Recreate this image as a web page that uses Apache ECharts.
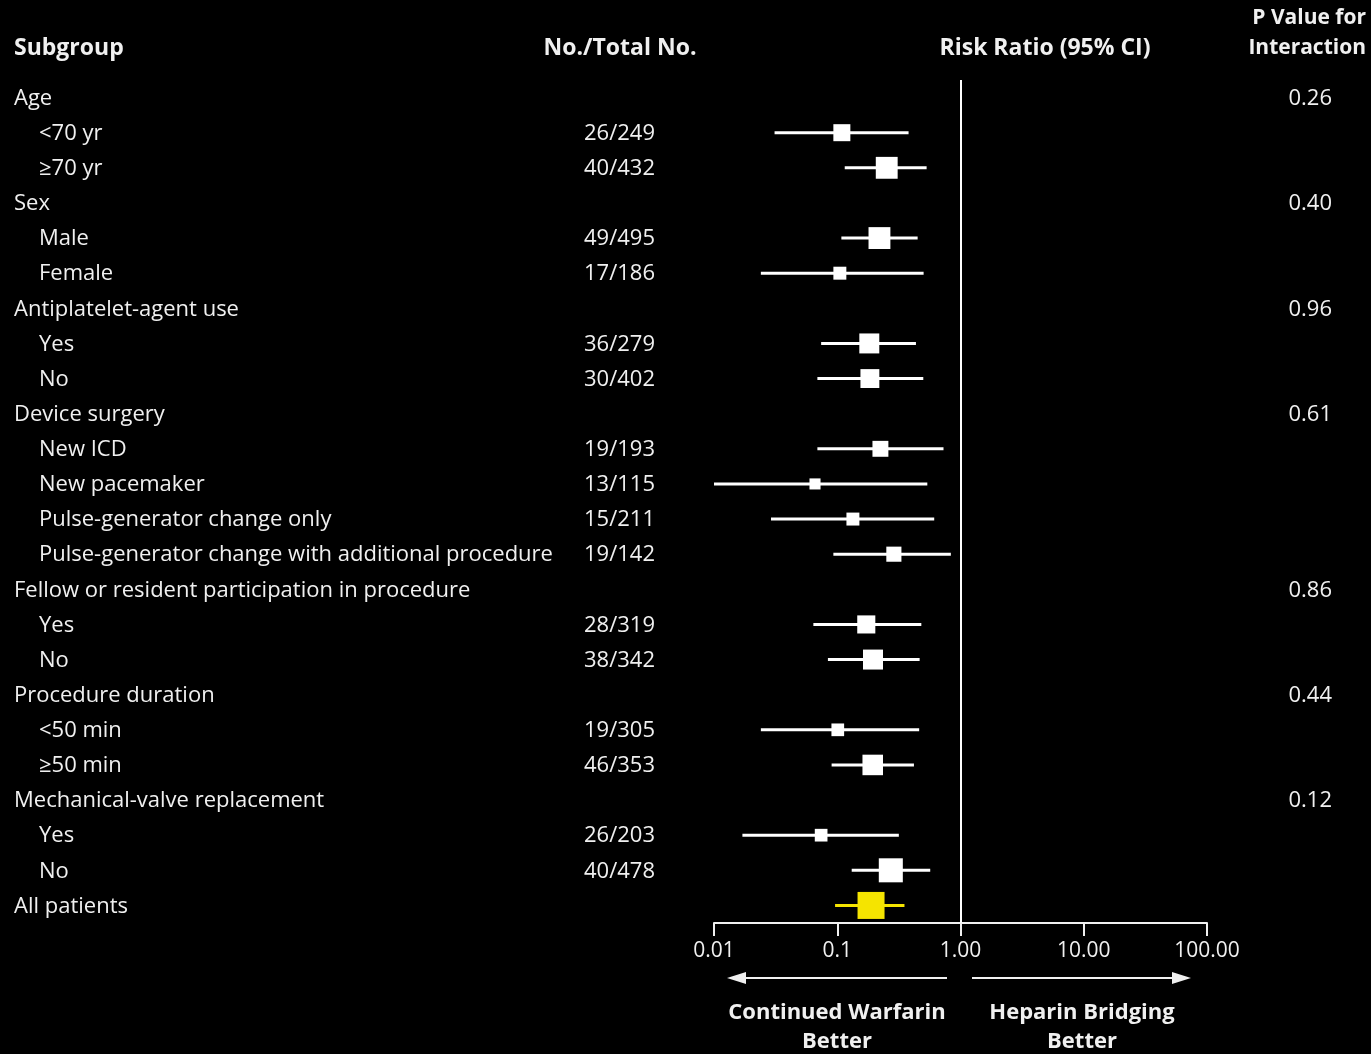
<!DOCTYPE html>
<html>
<head>
<meta charset="utf-8">
<script src="https://cdn.jsdelivr.net/npm/echarts@6/dist/echarts.min.js"></script>
<style>
html,body{margin:0;padding:0;background:#000;}
#chart{width:1371px;height:1054px;}
</style>
</head>
<body>
<div id="chart"></div>
<script>
// ---- data ----
const subgroups = ['Age','<70 yr','\u226570 yr','Sex','Male','Female','Antiplatelet-agent use','Yes','No',
  'Device surgery','New ICD','New pacemaker','Pulse-generator change only','Pulse-generator change with additional procedure',
  'Fellow or resident participation in procedure','Yes','No','Procedure duration','<50 min','\u226550 min',
  'Mechanical-valve replacement','Yes','No','All patients'];
const isChild = [0,1,1,0,1,1,0,1,1,0,1,1,1,1,0,1,1,0,1,1,0,1,1,0];
const counts = ['','26/249','40/432','','49/495','17/186','','36/279','30/402','','19/193','13/115','15/211','19/142',
  '','28/319','38/342','','19/305','46/353','','26/203','40/478',''];
const pValues = ['0.26','','','0.40','','','0.96','','','0.61','','','','','0.86','','','0.44','','','0.12','','',''];
const riskRatio = [null,0.109,0.252,null,0.220,0.105,null,0.182,0.184,null,0.224,0.066,0.134,0.288,null,0.172,0.195,null,0.101,0.194,null,0.074,0.272,0.188];
const ciLow =     [null,0.031,0.115,null,0.108,0.024,null,0.074,0.069,null,0.069,0.010,0.029,0.093,null,0.064,0.084,null,0.024,0.090,null,0.017,0.131,0.096];
const ciHigh =    [null,0.379,0.531,null,0.449,0.502,null,0.435,0.499,null,0.728,0.538,0.612,0.835,null,0.481,0.466,null,0.462,0.419,null,0.316,0.568,0.351];
const weight =    [null,0.63,0.81,null,0.81,0.48,null,0.74,0.70,null,0.59,0.41,0.48,0.56,null,0.67,0.74,null,0.47,0.76,null,0.47,0.89,1.0];
const overallRow = 23;
const tickValues = [0.01,0.1,1,10,100];
const tickLabels = ['0.01','0.1','1.00','10.00','100.00'];

// ---- chart ----
const FONT = '"Open Sans", Lato, sans-serif';
const TXT = '#f0f0f0';
const YELLOW = '#f5e400';
const BOX = 27;

const rows = subgroups.map((_, i) => String(i));
const forestData = [];
riskRatio.forEach((v, i) => { if (v != null) forestData.push([i, v, ciLow[i], ciHigh[i], weight[i]]); });
const textData = subgroups.map((_, i) => [1, i]);

const chart = echarts.init(document.getElementById('chart'));
chart.setOption({
  backgroundColor: '#000',
  animation: false,
  grid: { left: 714, right: 164, top: 80, bottom: 131, containLabel: false },
  xAxis: {
    type: 'log', logBase: 10, min: 0.01, max: 100,
    axisLine: { show: true, lineStyle: { color: TXT, width: 2 } },
    axisTick: { show: true, inside: false, length: 13, lineStyle: { color: TXT, width: 2 } },
    minorTick: { show: false },
    splitLine: { show: false },
    axisLabel: {
      color: TXT, fontFamily: FONT, fontSize: 21, margin: 18,
      formatter: v => { const k = tickValues.findIndex(t => Math.abs(Math.log10(t) - Math.log10(v)) < 1e-6); return k >= 0 ? tickLabels[k] : ''; }
    }
  },
  yAxis: {
    type: 'category', data: rows, inverse: true, show: false, boundaryGap: true
  },
  series: [
    {
      type: 'custom', name: 'text', data: textData, silent: true,
      encode: { x: 0, y: 1 },
      clip: false,
      renderItem: (params, api) => {
        const i = api.value(1);
        const y = api.coord([1, i])[1] + 1;
        const children = [{
          type: 'text', style: { x: isChild[i] ? 39 : 14, y: y, text: subgroups[i], fill: TXT, font: '22px ' + FONT, verticalAlign: 'middle', align: 'left' }
        }];
        if (counts[i]) children.push({ type: 'text', style: { x: 655, y: y, text: counts[i], fill: TXT, font: '22px ' + FONT, verticalAlign: 'middle', align: 'right' } });
        if (pValues[i]) children.push({ type: 'text', style: { x: 1332, y: y, text: pValues[i], fill: TXT, font: '22px ' + FONT, verticalAlign: 'middle', align: 'right' } });
        return { type: 'group', children };
      }
    },
    {
      type: 'custom', name: 'forest', data: forestData, silent: true,
      encode: { x: [1, 2, 3], y: 0 },
      renderItem: (params, api) => {
        const row = api.value(0);
        const pC = api.coord([api.value(1), row]);
        const pL = api.coord([api.value(2), row]);
        const pH = api.coord([api.value(3), row]);
        const s = api.value(4) * BOX;
        const col = row === overallRow ? YELLOW : '#ffffff';
        return {
          type: 'group', children: [
            { type: 'line', shape: { x1: pL[0], y1: pL[1], x2: pH[0], y2: pH[1] }, style: { stroke: col, lineWidth: 3 } },
            { type: 'rect', shape: { x: pC[0] - s / 2, y: pC[1] - s / 2, width: s, height: s }, style: { fill: col } }
          ]
        };
      },
      markLine: {
        silent: true, symbol: 'none', label: { show: false },
        lineStyle: { color: '#ffffff', width: 2, type: 'solid' },
        data: [{ xAxis: 1 }]
      }
    }
  ],
  graphic: [
    { type: 'text', x: 14, y: 48, style: { text: 'Subgroup', fill: TXT, font: 'bold 23px ' + FONT, align: 'left', verticalAlign: 'middle' } },
    { type: 'text', x: 620, y: 48, style: { text: 'No./Total No.', fill: TXT, font: 'bold 23px ' + FONT, align: 'center', verticalAlign: 'middle' } },
    { type: 'text', x: 1045, y: 48, style: { text: 'Risk Ratio (95% CI)', fill: TXT, font: 'bold 23px ' + FONT, align: 'center', verticalAlign: 'middle' } },
    { type: 'text', x: 1366, y: 18, style: { text: 'P Value for', fill: TXT, font: 'bold 21px ' + FONT, align: 'right', verticalAlign: 'middle' } },
    { type: 'text', x: 1366, y: 48, style: { text: 'Interaction', fill: TXT, font: 'bold 21px ' + FONT, align: 'right', verticalAlign: 'middle' } },
    // direction arrows
    { type: 'line', shape: { x1: 744, y1: 978, x2: 947, y2: 978 }, style: { stroke: TXT, lineWidth: 2 } },
    { type: 'polygon', shape: { points: [[727, 978], [746, 972], [746, 984]] }, style: { fill: TXT } },
    { type: 'line', shape: { x1: 972, y1: 978, x2: 1174, y2: 978 }, style: { stroke: TXT, lineWidth: 2 } },
    { type: 'polygon', shape: { points: [[1191, 978], [1172, 972], [1172, 984]] }, style: { fill: TXT } },
    { type: 'text', x: 837, y: 1013, style: { text: 'Continued Warfarin', fill: TXT, font: 'bold 22px ' + FONT, align: 'center', verticalAlign: 'middle' } },
    { type: 'text', x: 837, y: 1042, style: { text: 'Better', fill: TXT, font: 'bold 22px ' + FONT, align: 'center', verticalAlign: 'middle' } },
    { type: 'text', x: 1082, y: 1013, style: { text: 'Heparin Bridging', fill: TXT, font: 'bold 22px ' + FONT, align: 'center', verticalAlign: 'middle' } },
    { type: 'text', x: 1082, y: 1042, style: { text: 'Better', fill: TXT, font: 'bold 22px ' + FONT, align: 'center', verticalAlign: 'middle' } }
  ]
});
</script>
</body>
</html>
